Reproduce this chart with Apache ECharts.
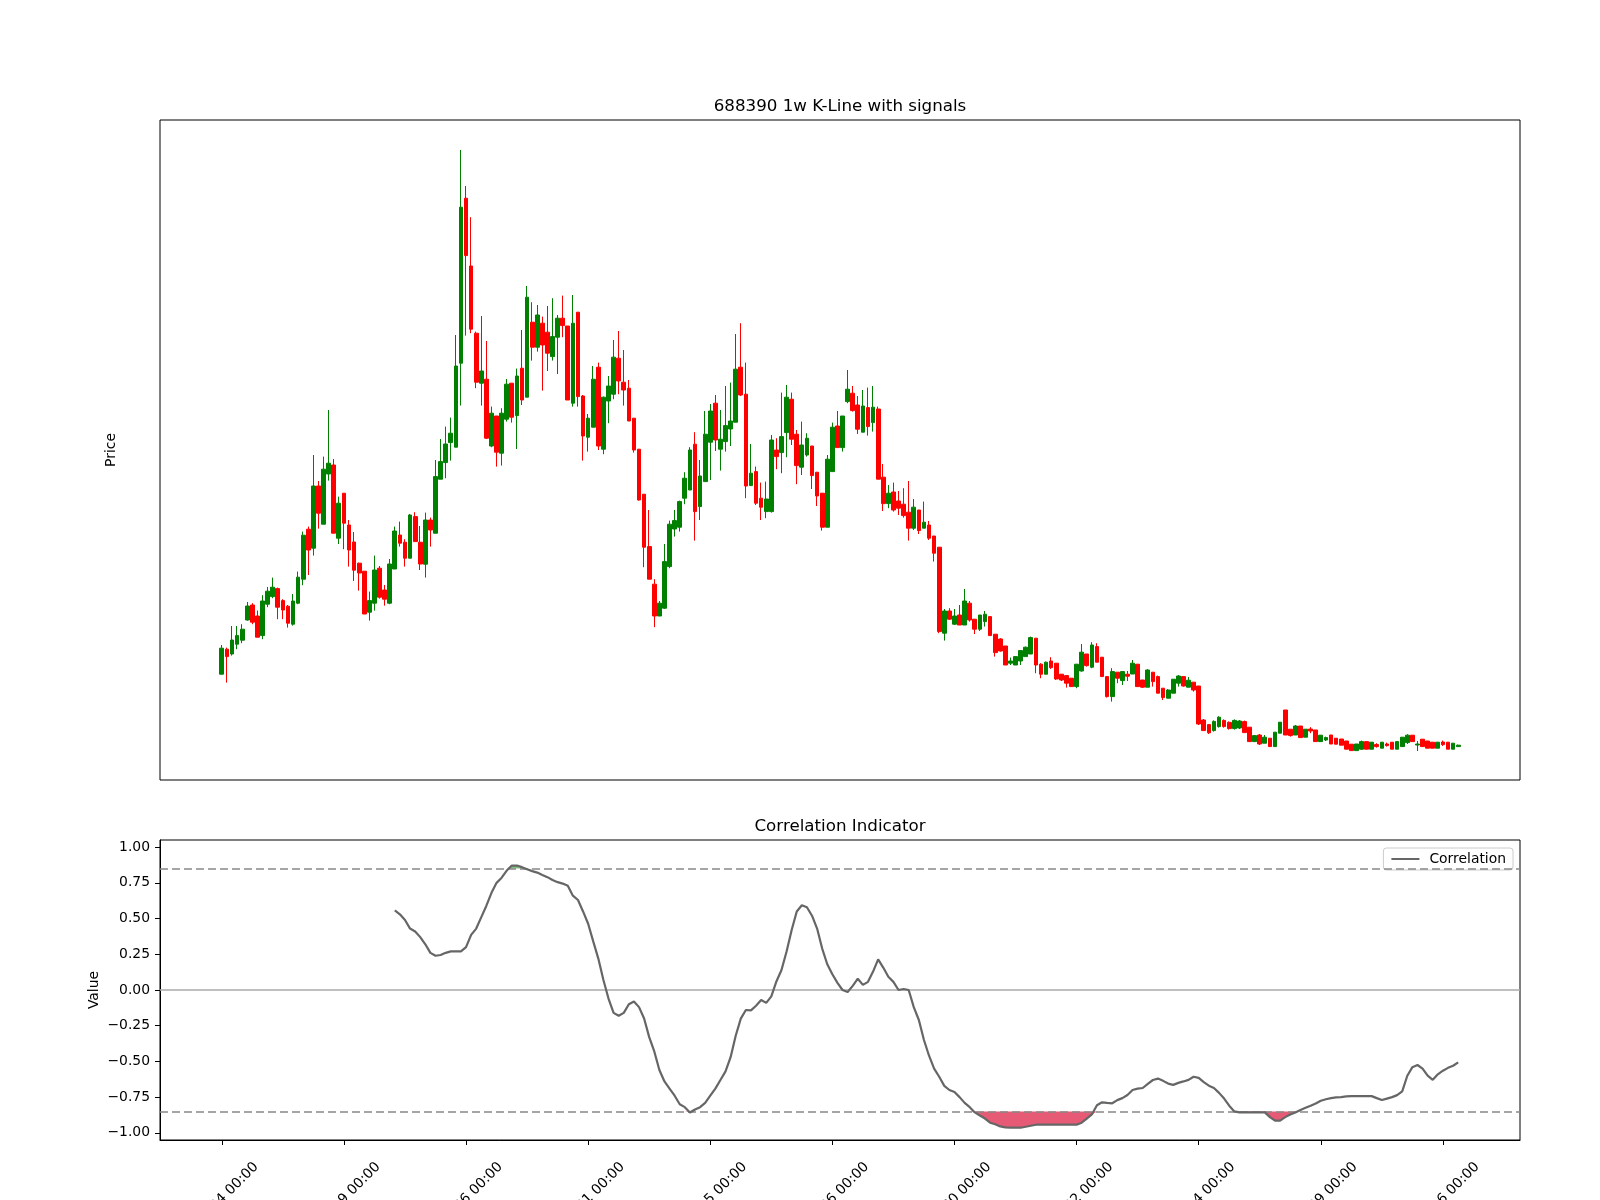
<!DOCTYPE html>
<html><head><meta charset="utf-8">
<script src="https://cdn.jsdelivr.net/npm/echarts@6/dist/echarts.min.js"></script>
<style>html,body{margin:0;padding:0;background:#fff}#c{width:1600px;height:1200px}</style>
</head><body><div id="c"></div>
<script>
// ---- tick labels (week index -> date) ----
const tickIndices = [0, 24, 48, 72, 96, 120, 144, 168, 192, 216, 240];
const tickLabels = ['2020-09-04 00:00','2021-02-19 00:00','2021-08-06 00:00','2022-01-21 00:00','2022-07-15 00:00','2023-01-06 00:00','2023-06-30 00:00','2023-12-22 00:00','2024-06-14 00:00','2024-11-29 00:00','2025-05-16 00:00'];

// ---- weekly OHLC ----
const opens = [
57.9,70.4,68.0,72.9,74.9,85.0,92.5,87.0,77.2,92.9,
96.7,100.7,94.7,91.9,82.9,93.4,105.4,130.4,120.9,152.0,
132.9,158.0,162.5,125.9,148.4,132.5,124.0,113.4,109.4,88.9,
93.4,110.9,100.0,93.4,110.5,127.5,123.9,115.9,136.7,123.9,
112.9,135.0,128.4,155.4,163.7,173.7,171.4,213.4,295.9,262.0,
228.4,203.4,205.4,172.0,187.0,168.4,185.4,203.4,187.2,210.9,
196.4,233.9,221.4,233.4,228.9,216.7,226.4,235.9,232.0,193.4,
238.9,197.0,176.4,181.4,211.4,170.4,194.5,197.9,215.9,203.9,
200.9,185.9,170.4,147.9,121.7,102.9,87.0,90.9,111.7,130.5,
131.4,145.9,150.0,172.9,141.7,154.2,173.9,193.4,170.4,174.2,
180.5,183.9,211.4,197.9,152.2,159.2,145.9,139.2,139.2,170.0,
168.7,178.7,195.4,177.9,161.4,167.5,172.0,158.9,148.4,131.4,
159.2,182.0,171.2,194.2,198.4,192.5,178.9,191.2,183.7,190.5,
156.4,143.2,149.0,144.5,142.9,138.9,130.9,140.0,130.9,132.5,
127.0,121.4,78.4,89.5,82.9,87.5,82.5,93.4,85.4,80.4,
84.2,86.7,77.9,75.5,72.0,63.4,62.5,64.5,66.7,68.0,
75.9,62.9,57.9,64.5,63.4,57.9,57.2,55.9,51.7,59.5,
68.0,61.4,71.7,66.4,56.7,46.7,58.9,54.7,57.9,58.0,
62.9,55.0,51.4,58.9,56.7,50.9,45.9,48.4,53.4,56.7,
51.4,53.9,52.0,35.0,32.7,29.7,31.7,34.8,33.8,30.7,
31.0,34.2,31.4,24.2,27.5,23.4,25.9,21.7,28.4,40.0,
30.4,27.5,32.0,26.4,30.5,30.0,24.2,25.0,27.5,25.9,
25.5,24.5,22.9,19.7,20.4,24.2,20.4,22.7,20.9,23.0,
23.9,20.4,21.7,23.7,27.4,22.5,25.4,24.5,23.9,20.9,
24.0,23.9,20.4,21.7];
const closes = [
70.9,66.7,75.0,77.2,80.4,92.0,83.9,76.4,94.5,99.4,
101.4,91.4,90.0,83.4,94.5,106.4,127.4,120.0,152.0,138.4,
160.4,163.4,128.4,143.4,133.4,120.0,109.9,108.5,88.0,94.7,
110.0,96.4,95.4,113.0,129.5,123.4,115.9,137.5,124.2,113.0,
135.0,130.0,156.7,164.2,173.0,178.4,212.0,291.4,267.2,230.4,
203.9,209.5,175.9,188.4,168.9,188.4,202.9,186.4,207.0,195.0,
246.4,221.4,237.5,222.5,218.4,226.7,235.9,232.2,195.0,233.4,
196.7,177.0,185.9,205.4,172.0,196.4,202.0,216.4,204.5,200.0,
184.5,170.0,145.0,121.4,105.4,87.0,93.4,114.2,132.9,134.7,
144.2,155.9,170.0,139.2,157.0,177.9,189.5,175.0,175.4,182.2,
184.5,210.4,197.5,152.0,158.4,143.4,141.4,145.5,175.0,166.7,
176.7,196.4,175.4,162.2,172.5,175.9,157.2,147.0,131.4,165.4,
181.4,171.2,187.0,200.4,189.7,180.4,192.0,181.7,191.4,155.4,
143.2,148.4,140.0,140.9,137.2,130.9,141.4,129.7,133.9,125.9,
118.4,79.2,89.5,85.4,87.0,82.5,94.5,85.0,80.4,87.5,
87.9,77.2,68.7,69.5,62.5,64.5,66.7,69.7,71.4,76.2,
62.5,57.9,63.9,61.2,55.5,55.0,53.4,51.7,62.9,68.9,
62.2,72.5,63.9,56.7,46.7,59.2,55.9,59.2,56.9,63.4,
51.7,51.4,60.0,54.2,48.4,46.2,50.0,55.4,57.0,52.0,
54.9,50.0,33.0,29.7,28.6,34.3,36.4,31.7,30.7,34.8,
34.5,28.7,24.2,27.2,23.0,26.4,21.7,28.9,33.9,27.5,
27.2,32.0,26.2,30.4,29.5,24.2,27.4,26.2,23.0,22.9,
22.4,20.4,19.7,23.0,24.2,20.4,23.9,21.7,23.9,22.2,
20.4,24.2,26.4,27.4,24.2,23.0,21.7,20.9,20.9,23.9,
22.7,20.4,23.4,22.4];
const lows = [
57.9,53.7,67.2,70.4,73.4,84.7,82.9,76.4,75.4,91.4,
95.9,85.4,85.4,81.2,82.2,92.9,102.4,107.5,117.2,130.7,
132.9,154.7,128.4,123.0,120.4,111.7,104.5,99.7,88.0,84.7,
89.7,95.7,92.2,92.9,110.5,121.7,111.7,115.9,124.2,110.0,
106.2,121.7,128.4,155.4,155.9,164.7,171.4,192.2,227.2,228.4,
200.9,192.2,175.5,171.4,161.7,162.2,184.2,183.7,170.5,192.5,
196.4,214.7,219.2,199.7,209.5,214.7,208.0,226.4,195.0,191.7,
191.7,164.7,169.2,181.4,170.0,167.9,183.4,195.4,197.9,192.2,
184.5,168.7,144.7,111.4,105.4,81.4,87.0,90.5,110.9,126.7,
129.2,142.9,150.0,124.7,135.0,154.2,155.0,169.5,159.7,169.2,
172.0,183.9,197.0,145.9,152.2,142.5,135.0,135.9,138.7,160.4,
158.4,166.4,172.5,152.9,157.5,166.7,150.5,142.0,129.7,131.4,
159.2,171.2,169.2,193.4,189.2,178.0,178.9,177.2,179.2,155.4,
139.5,140.9,139.2,137.5,136.2,124.7,130.0,128.0,130.9,125.0,
114.2,78.4,74.7,85.0,82.5,82.5,82.5,84.2,78.0,79.5,
81.7,77.2,66.7,69.2,62.5,62.5,62.5,62.5,66.7,68.0,
58.4,55.9,57.9,60.5,55.0,54.5,51.2,51.7,50.9,59.2,
61.7,60.9,63.9,56.7,46.2,44.2,53.4,52.5,54.5,58.0,
51.7,51.0,51.4,51.7,48.4,45.0,45.9,48.4,51.7,51.7,
51.4,49.2,32.5,29.5,28.0,29.2,31.2,31.2,30.2,30.2,
30.5,28.7,24.2,24.2,22.5,23.4,21.7,21.7,28.4,27.5,
26.7,27.5,26.2,26.4,28.4,24.2,24.2,24.5,23.0,22.9,
22.4,20.4,19.7,19.7,20.0,20.4,20.4,21.2,20.9,21.7,
20.4,20.4,21.7,23.0,24.2,19.5,21.7,20.9,20.9,20.9,
22.0,20.4,20.4,21.5];
const highs = [
72.5,71.2,82.0,82.0,82.9,94.0,93.4,89.7,97.4,101.5,
106.2,101.2,95.4,92.5,98.0,109.2,129.2,131.7,167.5,154.5,
166.7,190.0,165.5,146.7,148.4,135.0,129.0,113.7,109.4,99.2,
117.2,112.0,102.5,115.5,131.7,134.2,125.4,138.0,138.9,132.0,
138.7,136.2,165.0,175.5,181.7,186.2,227.5,320.0,302.0,286.4,
229.2,237.0,224.5,191.7,187.0,190.9,205.5,203.4,210.7,230.0,
252.0,243.9,242.5,236.7,242.0,245.9,237.5,247.2,232.0,247.5,
238.9,197.5,188.0,212.0,213.7,196.7,207.0,225.0,229.5,220.0,
205.0,185.9,170.4,147.9,140.0,105.4,94.5,123.0,134.7,140.0,
144.7,158.9,171.4,178.9,165.0,189.5,193.0,197.5,190.0,202.0,
203.7,228.0,233.4,213.7,173.0,161.7,153.7,154.2,177.5,175.9,
198.7,202.5,198.7,180.0,184.2,178.4,172.0,158.9,148.4,167.5,
183.7,189.5,187.0,210.0,202.0,197.0,200.0,201.2,202.0,191.7,
163.0,152.5,153.7,149.5,150.9,154.5,145.5,140.0,144.2,134.5,
127.0,121.4,90.5,90.9,90.5,92.5,100.5,94.5,85.4,87.5,
89.5,86.7,77.9,75.9,72.0,66.2,66.7,70.0,71.7,76.7,
75.9,63.4,64.2,66.4,63.4,57.9,57.2,55.9,62.9,73.0,
68.0,73.9,73.4,66.4,56.7,60.9,58.9,59.2,59.5,65.0,
62.9,55.0,60.4,58.9,57.2,50.9,50.5,55.4,57.5,56.7,
56.5,53.9,52.0,35.5,33.0,34.8,36.9,35.3,34.3,35.3,
35.0,34.7,31.4,27.2,28.0,27.5,25.9,28.9,33.9,40.0,
30.4,32.5,32.0,30.4,31.4,30.0,27.4,26.7,27.5,25.9,
25.5,24.5,22.9,23.0,24.7,24.2,23.9,23.4,23.9,23.7,
23.9,24.2,26.4,27.9,27.4,24.5,25.4,24.5,23.9,23.9,
24.7,23.9,23.4,22.7];

// ---- correlation indicator (starts at week index 34) ----
const corrStart = 34;
const corrValues = [
0.557,0.53,0.49,0.43,0.41,0.37,0.32,0.26,0.24,0.245,
0.26,0.27,0.27,0.27,0.30,0.386,0.43,0.51,0.59,0.68,
0.75,0.786,0.836,0.871,0.871,0.86,0.845,0.832,0.822,0.805,
0.79,0.77,0.755,0.745,0.729,0.66,0.63,0.55,0.464,0.34,
0.22,0.07,-0.06,-0.16,-0.18,-0.16,-0.10,-0.08,-0.12,-0.20,
-0.33,-0.43,-0.56,-0.64,-0.69,-0.74,-0.80,-0.82,-0.857,-0.836,
-0.82,-0.79,-0.74,-0.69,-0.63,-0.57,-0.47,-0.32,-0.20,-0.14,
-0.143,-0.11,-0.07,-0.09,-0.045,0.06,0.14,0.27,0.42,0.55,
0.593,0.579,0.52,0.43,0.29,0.18,0.11,0.05,0.0,-0.014,
0.029,0.079,0.036,0.057,0.129,0.214,0.157,0.093,0.057,0.0,
0.007,0.0,-0.12,-0.21,-0.35,-0.46,-0.55,-0.607,-0.671,-0.70,
-0.714,-0.75,-0.79,-0.82,-0.857,-0.879,-0.90,-0.929,-0.94,-0.955,
-0.962,-0.964,-0.964,-0.964,-0.957,-0.95,-0.943,-0.943,-0.943,-0.943,
-0.943,-0.943,-0.943,-0.943,-0.943,-0.929,-0.90,-0.871,-0.807,-0.786,
-0.79,-0.793,-0.771,-0.757,-0.735,-0.70,-0.69,-0.686,-0.657,-0.63,
-0.62,-0.636,-0.655,-0.664,-0.65,-0.64,-0.629,-0.607,-0.615,-0.645,
-0.67,-0.686,-0.72,-0.76,-0.81,-0.85,-0.857,-0.857,-0.857,-0.857,
-0.857,-0.857,-0.89,-0.914,-0.914,-0.89,-0.871,-0.857,-0.84,-0.825,
-0.81,-0.795,-0.775,-0.765,-0.757,-0.752,-0.75,-0.745,-0.743,-0.743,
-0.743,-0.743,-0.743,-0.757,-0.77,-0.76,-0.75,-0.736,-0.71,-0.60,
-0.54,-0.525,-0.55,-0.60,-0.629,-0.59,-0.565,-0.545,-0.53,-0.507];
const upperThreshold = 0.85;
const lowerThreshold = -0.85;
const valueTicks = [-1, -0.75, -0.5, -0.25, 0, 0.25, 0.5, 0.75, 1];

const FONT = 'DejaVu Sans';
const xMin = -12.15, xMax = 255.15;

const candleData = opens.map((o, i) => [i, o, closes[i], lows[i], highs[i]]);
const corrData = corrValues.map((v, k) => [corrStart + k, v]);

// contiguous runs where the signal passes a threshold
function runs(cond) {
  const out = []; let s = -1;
  corrValues.forEach((v, k) => {
    if (cond(v)) { if (s < 0) s = k; }
    else if (s >= 0) { out.push([s, k - 1]); s = -1; }
  });
  if (s >= 0) out.push([s, corrValues.length - 1]);
  return out;
}
const lowRuns = runs(v => v < lowerThreshold);
const highRuns = runs(v => v > upperThreshold);

function fillRender(runList, th, color) {
  return function (params, api) {
    const r = runList[params.dataIndex];
    const pts = [];
    const a = Math.max(r[0] - 1, 0), b = Math.min(r[1] + 1, corrValues.length - 1);
    for (let k = a; k <= b; k++) {
      const v = (th < 0) ? Math.min(corrValues[k], th) : Math.max(corrValues[k], th);
      pts.push(api.coord([corrStart + k, v]));
    }
    pts.push(api.coord([corrStart + b, th]));
    pts.push(api.coord([corrStart + a, th]));
    return {type: 'polygon', shape: {points: pts}, style: {fill: color}, silent: true};
  };
}

const fmtVal = v => (v < 0 ? '\u2212' : '') + Math.abs(v).toFixed(2);

const chart = echarts.init(document.getElementById('c'), null, {renderer: 'canvas', width: 1600, height: 1200});
const option = {
  animation: false,
  backgroundColor: '#ffffff',
  title: [
    {text: '688390 1w K-Line with signals', left: 840, top: 107, textAlign: 'center', textVerticalAlign: 'middle', padding: 0,
     textStyle: {fontFamily: FONT, fontSize: 16.7, fontWeight: 'normal', color: '#000'}},
    {text: 'Correlation Indicator', left: 840, top: 827, textAlign: 'center', textVerticalAlign: 'middle', padding: 0,
     textStyle: {fontFamily: FONT, fontSize: 16.7, fontWeight: 'normal', color: '#000'}}
  ],
  legend: {
    data: [{name: 'Correlation', icon: 'rect'}],
    right: 87, top: 848, itemWidth: 28, itemHeight: 2,
    padding: [4, 7, 4, 8],
    backgroundColor: 'rgba(255,255,255,0.8)', borderColor: '#cccccc', borderWidth: 1, borderRadius: 3,
    selectedMode: false,
    textStyle: {fontFamily: FONT, fontSize: 13.9, color: '#000', padding: [0, 0, 0, 5]},
    itemStyle: {color: '#666666'}
  },
  grid: [
    {left: 160, right: 80, top: 120, height: 660, show: true, borderColor: '#000', borderWidth: 1, containLabel: false, outerBoundsMode: 'none'},
    {left: 160, right: 80, top: 840, height: 300, show: true, borderColor: '#000', borderWidth: 1, containLabel: false, outerBoundsMode: 'none'}
  ],
  xAxis: [
    {type: 'value', gridIndex: 0, min: xMin, max: xMax, show: false, splitLine: {show: false}},
    {type: 'value', gridIndex: 1, min: xMin, max: xMax,
     axisLine: {show: true, onZero: false, lineStyle: {color: '#000', width: 1}},
     axisTick: {show: true, customValues: tickIndices, length: 5, lineStyle: {color: '#000', width: 1}},
     axisLabel: {show: true, customValues: tickIndices, rotate: 45, align: 'center', verticalAlign: 'middle', margin: 59,
       padding: [0, 28, 9, 0],
       fontFamily: FONT, fontSize: 13.9, color: '#000',
       formatter: v => { const k = tickIndices.indexOf(Math.round(v)); return k >= 0 ? tickLabels[k] : ''; }},
     splitLine: {show: false}}
  ],
  yAxis: [
    {type: 'value', gridIndex: 0, min: 5, max: 335, axisLine: {show: false}, axisTick: {show: false}, axisLabel: {show: false}, splitLine: {show: false},
     name: 'Price', nameLocation: 'middle', nameGap: 42, nameRotate: 90, nameMoveOverlap: false,
     nameTextStyle: {fontFamily: FONT, fontSize: 13.9, color: '#000'}},
    {type: 'value', gridIndex: 1, min: -1.05, max: 1.05,
     axisLine: {show: true, onZero: false, lineStyle: {color: '#000', width: 1}},
     axisTick: {show: true, customValues: valueTicks, length: 5, lineStyle: {color: '#000', width: 1}},
     axisLabel: {show: true, customValues: valueTicks, margin: 10, formatter: fmtVal, fontFamily: FONT, fontSize: 13.9, color: '#000'},
     splitLine: {show: false},
     name: 'Value', nameLocation: 'middle', nameGap: 59, nameRotate: 90, nameMoveOverlap: false,
     nameTextStyle: {fontFamily: FONT, fontSize: 13.9, color: '#000'}}
  ],
  series: [
    {name: 'K', type: 'candlestick', xAxisIndex: 0, yAxisIndex: 0, data: candleData,
     dimensions: ['idx', 'open', 'close', 'lowest', 'highest'], encode: {x: 0, y: [1, 2, 3, 4]},
     barWidth: 4.2,
     itemStyle: {color: '#008000', color0: '#ff0000', borderColor: '#008000', borderColor0: '#ff0000', borderWidth: 1}},
    {name: 'lowFill', type: 'custom', xAxisIndex: 1, yAxisIndex: 1, z: 1, silent: true,
     data: lowRuns.map(r => [corrStart + r[0], corrStart + r[1]]), encode: {x: [0, 1]},
     renderItem: fillRender(lowRuns, lowerThreshold, 'rgba(220,20,60,0.7)')},
    {name: 'highFill', type: 'custom', xAxisIndex: 1, yAxisIndex: 1, z: 1, silent: true,
     data: highRuns.map(r => [corrStart + r[0], corrStart + r[1]]), encode: {x: [0, 1]},
     renderItem: fillRender(highRuns, upperThreshold, 'rgba(0,128,0,0.5)')},
    {name: 'Correlation', type: 'line', xAxisIndex: 1, yAxisIndex: 1, data: corrData, symbol: 'none', showSymbol: false,
     lineStyle: {color: '#666666', width: 2.2}, itemStyle: {color: '#666666'}, z: 5,
     markLine: {silent: true, symbol: 'none', label: {show: false}, animation: false,
       data: [
         {yAxis: upperThreshold, lineStyle: {color: '#888888', type: [8, 4], width: 1.5}},
         {yAxis: lowerThreshold, lineStyle: {color: '#888888', type: [8, 4], width: 1.5}},
         {yAxis: 0, lineStyle: {color: '#aaaaaa', type: 'solid', width: 1.5}}
       ]}}
  ]
};
chart.setOption(option);
</script>
</body></html>
